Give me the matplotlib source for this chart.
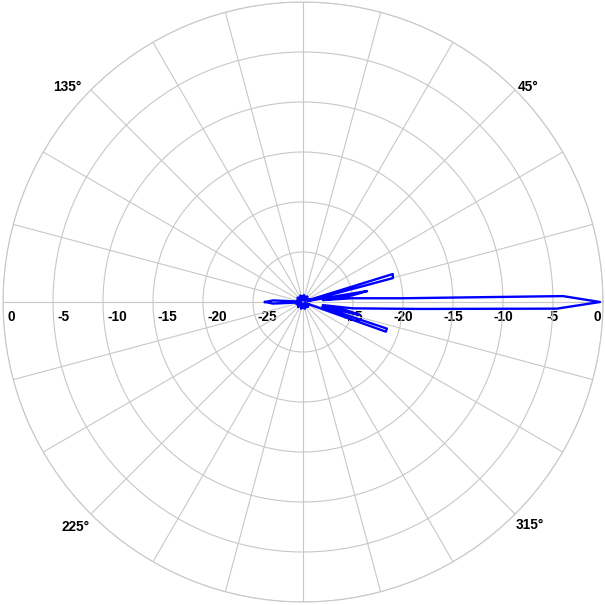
import numpy as np
import matplotlib
matplotlib.use('Agg')
import matplotlib.pyplot as plt
from matplotlib.transforms import offset_copy

# Діаграма спрямованості (кут у градусах, рівень у дБ)
angles = [-180, -177, -174, -165, -157, -150, -142, -135, -127, -120, -112, -105, -97, -90,
          -82, -75, -67, -60, -52, -45, -37, -30, -24, -22, -19.7, -17.6, -14.5, -12.8, -11,
          -9, -7.3, -3.4, -1.5, 0, 1.3, 2.2, 4.4, 5.5, 7, 8.5, 9.7, 11, 12.5, 14.9, 17.3, 19,
          22, 30, 37, 45, 52, 60, 67, 75, 82, 90, 97, 105, 112, 120, 127, 135, 142, 150, 157,
          165, 174, 177, 180]
levels = [-26.2, -27.0, -29.5, -29.3, -29.8, -29.4, -29.7, -29.3, -29.8, -29.5, -29.7, -29.3, -29.8, -29.4,
          -29.7, -29.3, -29.8, -29.4, -29.7, -29.3, -29.8, -29.4, -29.3, -29.6, -21.2, -21.2, -28.0, -24.2, -25.5,
          -28.0, -25.0, -18.3, -4.6, -0.3, -4.0, -20.3, -25.1, -28.0, -25.5, -24.5, -23.5, -29.0, -29.5, -20.7, -20.6, -29.5,
          -29.3, -29.7, -29.4, -29.8, -29.3, -29.7, -29.4, -29.8, -29.3, -29.7, -29.4, -29.8, -29.3, -29.7, -29.4, -29.8, -29.3, -29.7, -29.4,
          -29.6, -29.5, -27.0, -26.2]

ring_values = [0, -5, -10, -15, -20, -25]
angle_labels = ['45°', '135°', '225°', '315°']
# положення підписів кутів (кут, радіус у дБ)
label_theta = [43.7, 137.6, 224.7, 315.5]
label_r = [1.1, 1.9, 2.0, 1.8]

grid_col = '#c8c8c8'
font = dict(family=['Liberation Sans', 'DejaVu Sans'], fontsize=9.8, fontweight='bold')

fig = plt.figure(figsize=(6.05, 6.05), dpi=100)
ax = fig.add_axes([3 / 605, 3 / 605, 600 / 605, 600 / 605], projection='polar')

ax.plot(np.deg2rad(angles), levels, color='#0000ff', lw=1.7, zorder=3)

ax.set_rlim(-30, 0)
ax.set_rticks([-25, -20, -15, -10, -5, 0])
ax.set_yticklabels([])
ax.set_xticks(np.deg2rad(np.arange(0, 360, 15)))
ax.set_xticklabels([])
ax.grid(True, color=grid_col, lw=0.8)
ax.spines['polar'].set_color(grid_col)
ax.spines['polar'].set_linewidth(0.8)
ax.tick_params(length=0)

# підписи рівнів уздовж горизонтальної осі
for v in ring_values:
    tr = offset_copy(ax.transData, fig=fig, x=4 if v != 0 else 5, y=-15, units='dots')
    ax.text(np.pi, v, str(v), transform=tr, ha='left', va='center', zorder=1, **font)
    if v == 0:
        tr = offset_copy(ax.transData, fig=fig, x=-2, y=-15, units='dots')
        ax.text(0, v, str(v), transform=tr, ha='right', va='center', zorder=1, **font)
    else:
        tr = offset_copy(ax.transData, fig=fig, x=0, y=-15, units='dots')
        ax.text(0, v, str(v), transform=tr, ha='center', va='center', zorder=1, **font)

# підписи кутів
for lab, t, r in zip(angle_labels, label_theta, label_r):
    ax.text(np.deg2rad(t), r, lab, ha='center', va='center', **font)

fig.savefig('out.png', dpi=100)
